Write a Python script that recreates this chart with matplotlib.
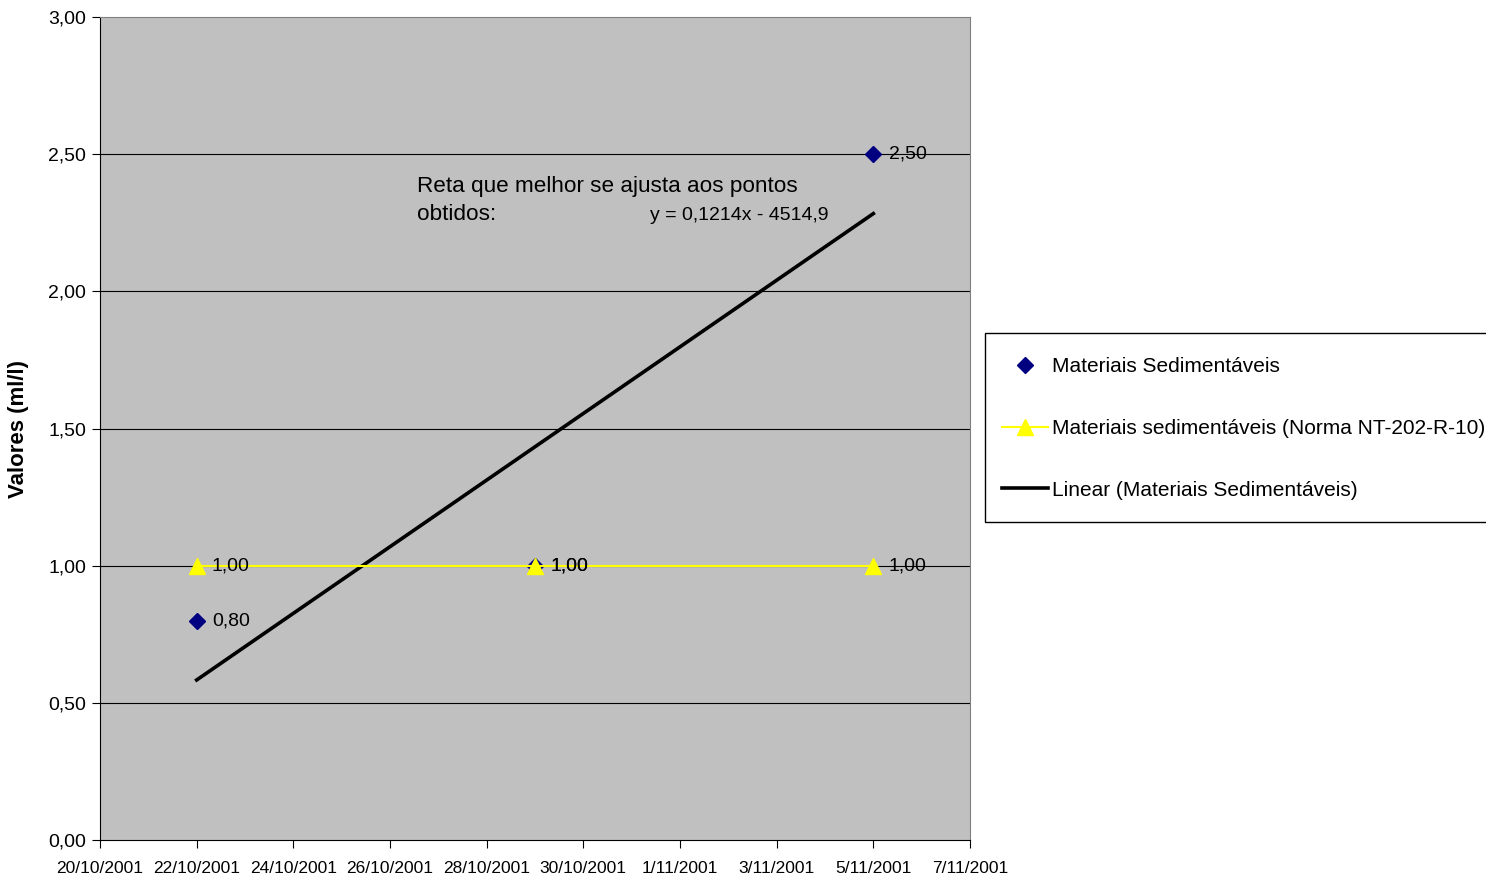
import matplotlib
matplotlib.use("Agg")
import matplotlib.pyplot as plt
import matplotlib.dates as mdates
from matplotlib.ticker import FuncFormatter
from matplotlib.patches import Rectangle
from datetime import datetime, timedelta
import numpy as np

plt.rcParams['font.family'] = ['Liberation Sans', 'DejaVu Sans']

# Data
dates = ["22/10/2001", "29/10/2001", "5/11/2001"]
sed_values = [0.80, 1.00, 2.50]
norma_values = [1.00, 1.00, 1.00]
x_start, x_end = "20/10/2001", "7/11/2001"
y_ticks = [0.0, 0.5, 1.0, 1.5, 2.0, 2.5, 3.0]
series_names = ["Materiais Sedimentáveis",
                "Materiais sedimentáveis (Norma NT-202-R-10)",
                "Linear (Materiais Sedimentáveis)"]
annotation_lines = ["Reta que melhor se ajusta aos pontos", "obtidos:"]
equation = "y = 0,1214x - 4514,9"

def pd_(s):
    return datetime.strptime(s, "%d/%m/%Y")

xd = [pd_(d) for d in dates]
xn = mdates.date2num(xd)

W, H = 1486, 880
fig = plt.figure(figsize=(W/100, H/100), dpi=100)
ax = fig.add_axes([100/W, 1-840/H, 870/W, 823/H])
ax.set_facecolor('#C0C0C0')

# trendline via least squares
coef = np.polyfit(xn, sed_values, 1)
trend = np.polyval(coef, xn)

ax.set_xlim(mdates.date2num(pd_(x_start)), mdates.date2num(pd_(x_end)))
ax.set_ylim(0, 3)

for y in y_ticks[1:-1]:
    ax.axhline(y, color='black', lw=0.8, zorder=1)

ln_norma, = ax.plot(xn, norma_values, color='#FFFF00', lw=1.5, marker='^',
                    markersize=12, markerfacecolor='#FFFF00', markeredgecolor='#FFFF00',
                    zorder=3, label=series_names[1])
ln_sed, = ax.plot(xn, sed_values, linestyle='none', marker='D', markersize=8,
                  color='#000080', zorder=2.5, label=series_names[0])
ln_trend, = ax.plot([xn[0], xn[-1]], [trend[0], trend[-1]], color='black', lw=2.6,
                    zorder=2, label=series_names[2])

def fmt(v):
    return f"{v:.2f}".replace('.', ',')

for x, v in zip(xn, sed_values):
    ax.annotate(fmt(v), (x, v), xytext=(11, 0), textcoords='offset points',
                va='center', ha='left', fontsize=14, zorder=4)
for x, v in zip(xn, norma_values):
    ax.annotate(fmt(v), (x, v), xytext=(11, 0), textcoords='offset points',
                va='center', ha='left', fontsize=14, zorder=4)

fig.text(417/W, 1-186/H, annotation_lines[0], fontsize=16.2, va='center', ha='left')
fig.text(417/W, 1-214/H, annotation_lines[1], fontsize=16.2, va='center', ha='left')
fig.text(650/W, 1-215/H, equation, fontsize=14, va='center', ha='left')

ax.set_yticks(y_ticks)
ax.yaxis.set_major_formatter(FuncFormatter(lambda v, p: fmt(v)))
ticks = [mdates.date2num(pd_(x_start) + timedelta(days=2*i)) for i in range(10)]
ax.set_xticks(ticks)
ax.xaxis.set_major_formatter(FuncFormatter(
    lambda v, p: (lambda d: f"{d.day}/{d.month}/{d.year}")(mdates.num2date(v))))
ax.tick_params(axis='x', labelsize=12.5, length=6, direction='out', pad=9, color='black')
ax.tick_params(axis='y', labelsize=14, length=6, direction='out', pad=4, color='black')

for s in ['top', 'right']:
    ax.spines[s].set_color('#808080')
for s in ['left', 'bottom']:
    ax.spines[s].set_color('black')

ax.set_ylabel("Valores (ml/l)", fontsize=16, fontweight='bold', labelpad=14)

# legend frame (extends past the right edge like the reference)
fig.patches.append(Rectangle((985/W, 1-522/H), (1500-985)/W, (522-333)/H,
                             transform=fig.transFigure, fill=True, facecolor='white',
                             edgecolor='black', lw=1.0, zorder=0))
leg = fig.legend(handles=[ln_sed, ln_norma, ln_trend], loc='upper left',
                 bbox_to_anchor=(996/W, 1-351/H), fontsize=15,
                 frameon=False, labelspacing=2.05, handlelength=2.2,
                 handletextpad=0.2, borderpad=0.3, borderaxespad=0)

fig.savefig("out.png", dpi=100)
